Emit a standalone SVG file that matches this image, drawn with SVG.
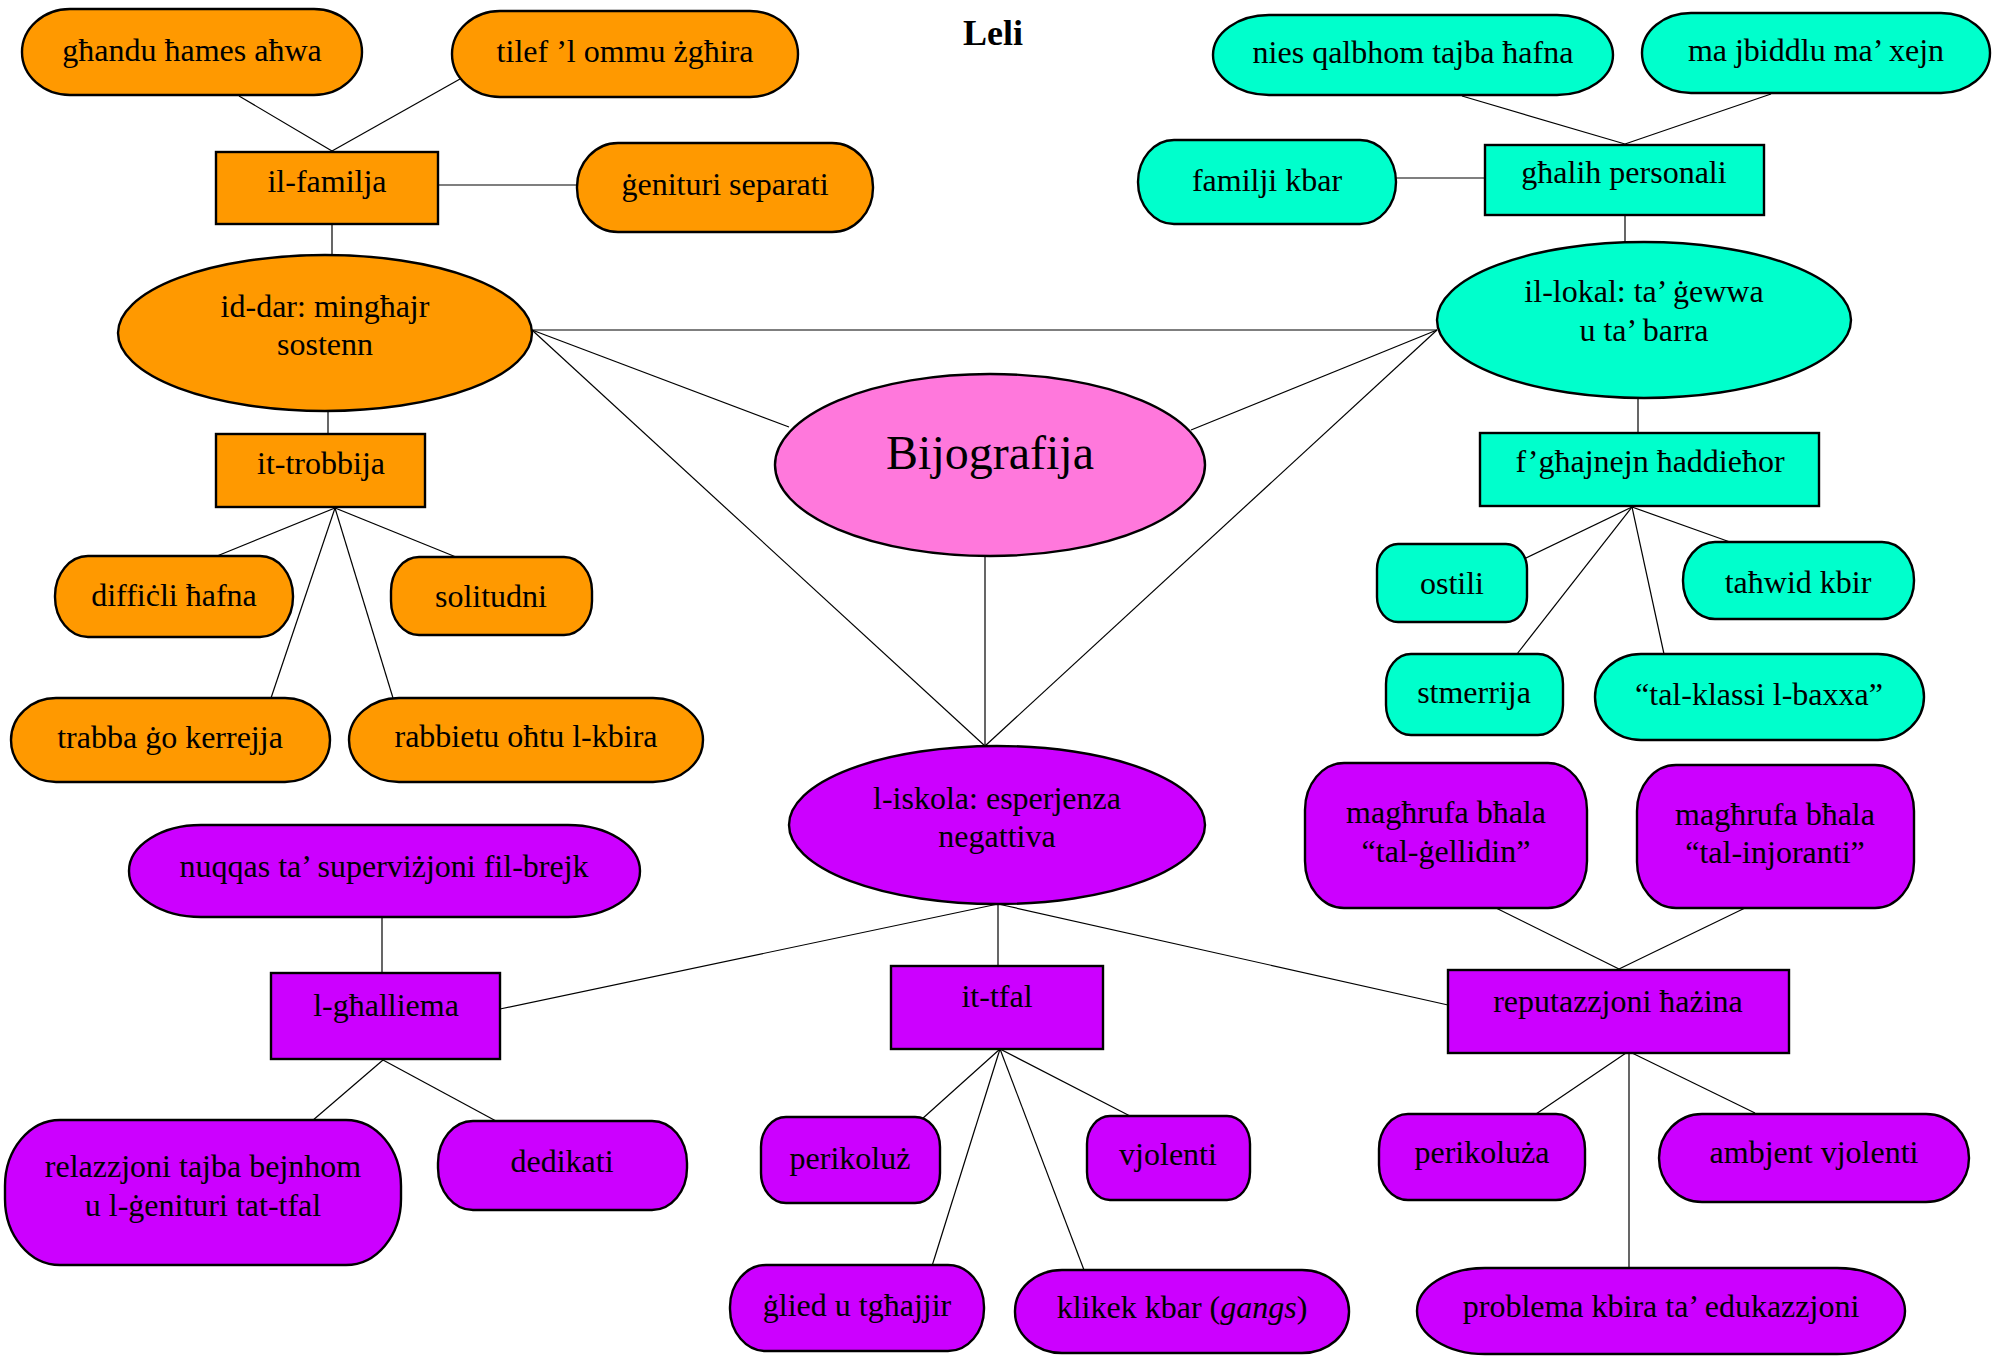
<svg xmlns="http://www.w3.org/2000/svg" width="1996" height="1356" viewBox="0 0 1996 1356">
<style>
text{font-family:"Liberation Serif","Times New Roman",serif;font-size:32px;fill:#000;text-anchor:middle}
.n{stroke:#000;stroke-width:2.4}
.o{fill:#FF9900}
.c{fill:#00FFCC}
.p{fill:#CC00FF}
.k{fill:#FF78DC}
#connectors line{stroke:#000;stroke-width:1.2}
</style>
<rect width="1996" height="1356" fill="#fff"/>
<text x="993" y="45" style="font-weight:bold;font-size:36px">Leli</text>
<g id="connectors">
<line x1="239" y1="96" x2="332" y2="151"/>
<line x1="460" y1="79" x2="332" y2="151"/>
<line x1="437" y1="185" x2="577" y2="185"/>
<line x1="332" y1="224" x2="332" y2="256"/>
<line x1="328" y1="411" x2="328" y2="434"/>
<line x1="335" y1="508" x2="217" y2="556"/>
<line x1="335" y1="508" x2="271" y2="698"/>
<line x1="335" y1="508" x2="393" y2="698"/>
<line x1="335" y1="508" x2="456" y2="557"/>
<line x1="532" y1="330" x2="789" y2="427"/>
<line x1="532" y1="330" x2="1437" y2="330"/>
<line x1="532" y1="330" x2="985" y2="746"/>
<line x1="1437" y1="330" x2="1191" y2="430"/>
<line x1="1437" y1="330" x2="985" y2="746"/>
<line x1="985" y1="556" x2="985" y2="746"/>
<line x1="1462" y1="96" x2="1625" y2="144"/>
<line x1="1771" y1="94" x2="1625" y2="144"/>
<line x1="1396" y1="178" x2="1485" y2="178"/>
<line x1="1625" y1="215" x2="1625" y2="243"/>
<line x1="1638" y1="398" x2="1638" y2="433"/>
<line x1="1632" y1="507" x2="1524" y2="559"/>
<line x1="1632" y1="507" x2="1517" y2="654"/>
<line x1="1632" y1="507" x2="1664" y2="654"/>
<line x1="1632" y1="507" x2="1730" y2="542"/>
<line x1="998" y1="904" x2="500" y2="1009"/>
<line x1="998" y1="904" x2="998" y2="966"/>
<line x1="998" y1="904" x2="1448" y2="1005"/>
<line x1="382" y1="917" x2="382" y2="973"/>
<line x1="383" y1="1060" x2="312" y2="1121"/>
<line x1="383" y1="1060" x2="496" y2="1121"/>
<line x1="1000" y1="1049" x2="922" y2="1119"/>
<line x1="1000" y1="1049" x2="932" y2="1266"/>
<line x1="1000" y1="1049" x2="1130" y2="1116"/>
<line x1="1000" y1="1049" x2="1084" y2="1270"/>
<line x1="1496" y1="908" x2="1619" y2="969"/>
<line x1="1745" y1="908" x2="1619" y2="969"/>
<line x1="1626" y1="1053" x2="1536" y2="1114"/>
<line x1="1629" y1="1053" x2="1629" y2="1268"/>
<line x1="1632" y1="1053" x2="1755" y2="1113"/>
</g>
<g id="n-ghandu"><rect class="n o" x="22" y="9" width="340" height="86" rx="48" ry="43"/><text x="192" y="61">għandu ħames aħwa</text></g>
<g id="n-tilef"><rect class="n o" x="452" y="11" width="346" height="86" rx="48" ry="43"/><text x="625" y="62">tilef ’l ommu żgħira</text></g>
<g id="n-familja"><rect class="n o" x="216" y="152" width="222" height="72"/><text x="327" y="192">il-familja</text></g>
<g id="n-genituri"><rect class="n o" x="577" y="143" width="296" height="89" rx="41" ry="44"/><text x="725" y="195">ġenituri separati</text></g>
<g id="n-dar"><ellipse class="n o" cx="325" cy="333" rx="207" ry="78"/><text x="325" y="317">id-dar: mingħajr</text><text x="325" y="355">sostenn</text></g>
<g id="n-trobbija"><rect class="n o" x="216" y="434" width="209" height="73"/><text x="321" y="474">it-trobbija</text></g>
<g id="n-difficli"><rect class="n o" x="55" y="556" width="238" height="81" rx="33" ry="40"/><text x="174" y="606">diffiċli ħafna</text></g>
<g id="n-solitudni"><rect class="n o" x="391" y="557" width="201" height="78" rx="28" ry="34"/><text x="491" y="607">solitudni</text></g>
<g id="n-trabba"><rect class="n o" x="11" y="698" width="319" height="84" rx="45" ry="42"/><text x="170" y="748">trabba ġo kerrejja</text></g>
<g id="n-rabbietu"><rect class="n o" x="349" y="698" width="354" height="84" rx="50" ry="42"/><text x="526" y="747">rabbietu oħtu l-kbira</text></g>
<g id="n-nies"><rect class="n c" x="1213" y="15" width="400" height="80" rx="56" ry="40"/><text x="1413" y="63">nies qalbhom tajba ħafna</text></g>
<g id="n-mabiddlu"><rect class="n c" x="1642" y="13" width="348" height="80" rx="49" ry="40"/><text x="1816" y="61">ma jbiddlu ma’ xejn</text></g>
<g id="n-familji"><rect class="n c" x="1138" y="140" width="258" height="84" rx="36" ry="42"/><text x="1267" y="191">familji kbar</text></g>
<g id="n-ghalih"><rect class="n c" x="1485" y="145" width="279" height="70"/><text x="1624" y="183">għalih personali</text></g>
<g id="n-lokal"><ellipse class="n c" cx="1644" cy="320" rx="207" ry="78"/><text x="1644" y="302">il-lokal: ta’ ġewwa</text><text x="1644" y="341">u ta’ barra</text></g>
<g id="n-ghajnejn"><rect class="n c" x="1480" y="433" width="339" height="73"/><text x="1650" y="472">f’għajnejn ħaddieħor</text></g>
<g id="n-ostili"><rect class="n c" x="1377" y="544" width="150" height="78" rx="21" ry="25"/><text x="1452" y="594">ostili</text></g>
<g id="n-tahwid"><rect class="n c" x="1683" y="542" width="231" height="77" rx="32" ry="38"/><text x="1798" y="593">taħwid kbir</text></g>
<g id="n-stmerrija"><rect class="n c" x="1386" y="654" width="177" height="81" rx="25" ry="30"/><text x="1474" y="703">stmerrija</text></g>
<g id="n-klassi"><rect class="n c" x="1595" y="654" width="329" height="86" rx="46" ry="43"/><text x="1759" y="705">“tal-klassi l-baxxa”</text></g>
<g id="n-bijografija"><ellipse class="n k" cx="990" cy="465" rx="215" ry="91"/><text x="990" y="469" style="font-size:48px">Bijografija</text></g>
<g id="n-iskola"><ellipse class="n p" cx="997" cy="825" rx="208" ry="79"/><text x="997" y="809">l-iskola: esperjenza</text><text x="997" y="847">negattiva</text></g>
<g id="n-nuqqas"><rect class="n p" x="129" y="825" width="511" height="92" rx="72" ry="46"/><text x="384" y="877">nuqqas ta’ superviżjoni fil-brejk</text></g>
<g id="n-ghalliema"><rect class="n p" x="271" y="973" width="229" height="86"/><text x="386" y="1016">l-għalliema</text></g>
<g id="n-tfal"><rect class="n p" x="891" y="966" width="212" height="83"/><text x="997" y="1007">it-tfal</text></g>
<g id="n-reputazzjoni"><rect class="n p" x="1448" y="970" width="341" height="83"/><text x="1618" y="1012">reputazzjoni ħażina</text></g>
<g id="n-gellidin"><rect class="n p" x="1305" y="763" width="282" height="145" rx="39" ry="47"/><text x="1446" y="823">magħrufa bħala</text><text x="1446" y="862">“tal-ġellidin”</text></g>
<g id="n-injoranti"><rect class="n p" x="1637" y="765" width="277" height="143" rx="39" ry="46"/><text x="1775" y="825">magħrufa bħala</text><text x="1775" y="863">“tal-injoranti”</text></g>
<g id="n-relazzjoni"><rect class="n p" x="5" y="1120" width="396" height="145" rx="55" ry="66"/><text x="203" y="1177">relazzjoni tajba bejnhom</text><text x="203" y="1216">u l-ġenituri tat-tfal</text></g>
<g id="n-dedikati"><rect class="n p" x="438" y="1121" width="249" height="89" rx="35" ry="42"/><text x="562" y="1172">dedikati</text></g>
<g id="n-perikoluz"><rect class="n p" x="761" y="1117" width="179" height="86" rx="25" ry="30"/><text x="850" y="1169">perikoluż</text></g>
<g id="n-vjolenti"><rect class="n p" x="1087" y="1116" width="163" height="84" rx="23" ry="28"/><text x="1168" y="1165">vjolenti</text></g>
<g id="n-glied"><rect class="n p" x="730" y="1265" width="254" height="86" rx="36" ry="42"/><text x="857" y="1316">ġlied u tgħajjir</text></g>
<g id="n-klikek"><rect class="n p" x="1015" y="1270" width="334" height="83" rx="47" ry="41"/><text x="1182" y="1318">klikek kbar (<tspan font-style="italic">gangs</tspan>)</text></g>
<g id="n-perikoluza"><rect class="n p" x="1379" y="1114" width="206" height="86" rx="29" ry="35"/><text x="1482" y="1163">perikoluża</text></g>
<g id="n-ambjent"><rect class="n p" x="1659" y="1114" width="310" height="88" rx="43" ry="44"/><text x="1814" y="1163">ambjent vjolenti</text></g>
<g id="n-problema"><rect class="n p" x="1417" y="1268" width="488" height="86" rx="68" ry="43"/><text x="1661" y="1317">problema kbira ta’ edukazzjoni</text></g>
</svg>
